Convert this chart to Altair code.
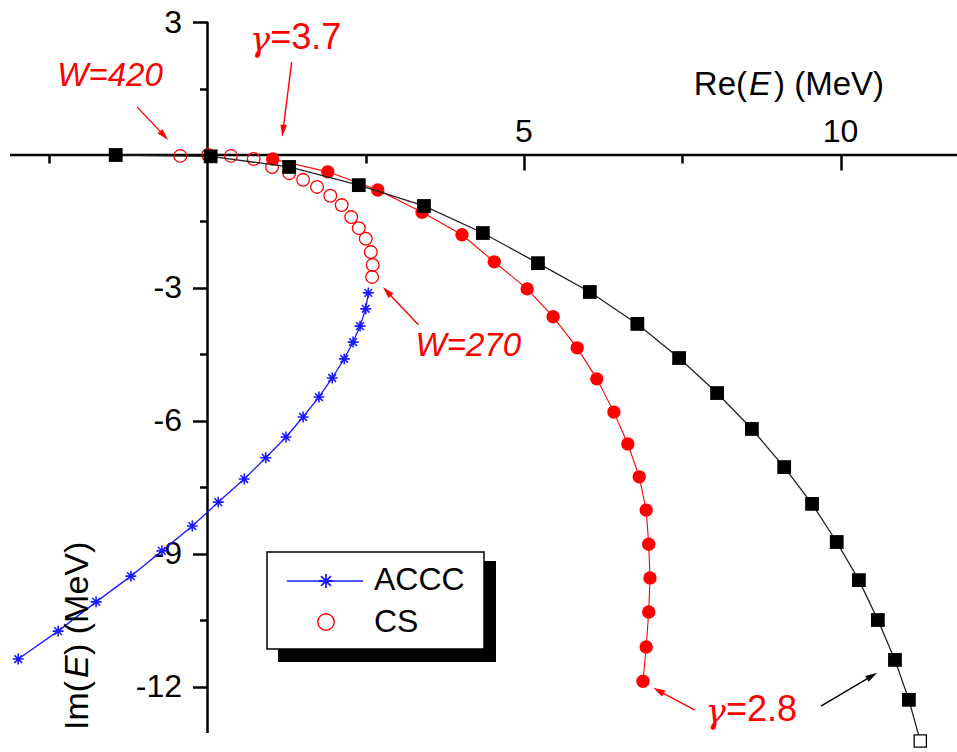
import math
import altair as alt
import pandas as pd

# ---------------- data ----------------
sq_re = [-1.45, 0.05, 1.29, 2.39, 3.42, 4.35, 5.22, 6.04, 6.79, 7.45, 8.05, 8.60, 9.11, 9.55, 9.94, 10.29, 10.59, 10.86, 11.08]
sq_im = [0.0, -0.03, -0.27, -0.68, -1.15, -1.76, -2.44, -3.09, -3.81, -4.58, -5.37, -6.18, -7.04, -7.87, -8.73, -9.59, -10.49, -11.39, -12.29]
end_re = [11.26]
end_im = [-13.22]

red_re = [1.03, 1.90, 2.69, 3.39, 4.02, 4.53, 5.05, 5.46, 5.84, 6.15, 6.42, 6.64, 6.82, 6.93, 6.97, 6.99, 6.97, 6.93, 6.88]
red_im = [-0.09, -0.38, -0.79, -1.29, -1.80, -2.41, -3.02, -3.65, -4.35, -5.05, -5.80, -6.52, -7.26, -8.01, -8.78, -9.54, -10.31, -11.10, -11.87]

cs_re = [-0.43, 0.01, 0.37, 0.73, 1.02, 1.29, 1.51, 1.73, 1.94, 2.12, 2.27, 2.39, 2.50, 2.58, 2.61, 2.60]
cs_im = [-0.02, 0.0, -0.02, -0.09, -0.27, -0.41, -0.56, -0.72, -0.92, -1.13, -1.40, -1.65, -1.89, -2.19, -2.48, -2.75]

accc_re = [2.54, 2.50, 2.41, 2.30, 2.16, 1.97, 1.76, 1.51, 1.24, 0.92, 0.58, 0.17, -0.24, -0.72, -1.21, -1.76, -2.36, -2.99]
accc_im = [-3.11, -3.47, -3.86, -4.22, -4.60, -5.03, -5.46, -5.91, -6.36, -6.83, -7.31, -7.83, -8.37, -8.93, -9.50, -10.08, -10.74, -11.37]

x_ticks = [-2.5, 2.5, 5, 7.5, 10]
x_labels = [5, 10]
y_ticks = [3, 1.5, -1.5, -3, -4.5, -6, -7.5, -9, -10.5, -12]

legend_labels = ["ACCC", "CS"]

ann_w_text = ["W=420", "W=270"]
ann_w_x = [-1.54, 4.12]
ann_w_y = [1.78, -4.31]
ann_g_sym = ["γ", "γ"]
ann_g_text = ["=3.7", "=2.8"]
ann_g_x = [0.99, 8.19]
ann_g_y = [2.64, -12.52]

arr_x1 = [-1.11, 1.33, 3.33, 7.70, 9.69]
arr_y1 = [1.08, 2.10, -3.83, -12.52, -12.43]
arr_x2 = [-0.62, 1.18, 2.77, 7.04, 10.58]
arr_y2 = [0.34, 0.41, -2.98, -12.02, -11.68]
arr_col = ["red", "red", "red", "red", "black"]

# ---------------- geometry ----------------
W, H = 957, 752
X_MIN, X_MAX = -3.278, 11.840
Y_MIN, Y_MAX = -13.467, 3.4965
KX = W / (X_MAX - X_MIN)
KY = H / (Y_MAX - Y_MIN)
X0_PX = -X_MIN * KX
Y0_PX = Y_MAX * KY

FONT = "Liberation Sans"
RED = "#ff0000"
BLUE = "#1a1aff"

XS = alt.Scale(domain=[X_MIN, X_MAX], nice=False, zero=False)
YS = alt.Scale(domain=[Y_MIN, Y_MAX], nice=False, zero=False)

XAX = alt.Axis(
    orient="bottom", offset=-(H - Y0_PX), values=x_ticks, labels=False, domain=False,
    grid=False, title=None, tickColor="black", tickWidth=2.5,
    tickSize={"condition": {"test": "datum.value % 5 === 0", "value": 15}, "value": 8},
)
YAX = alt.Axis(
    orient="left", offset=-X0_PX, values=y_ticks, domain=False, grid=False, title=None,
    tickColor="black", tickWidth=2.5,
    tickSize={"condition": {"test": "datum.value % 3 === 0", "value": 15}, "value": 8},
    labelExpr="datum.value % 3 === 0 ? toString(datum.value) : ''",
    labelFont=FONT, labelFontSize=32, labelColor="black", labelPadding=11,
)


def X(f):
    return alt.X(f, type="quantitative", scale=XS, axis=XAX)


def Y(f):
    return alt.Y(f, type="quantitative", scale=YS, axis=YAX)


def series(re, im):
    return pd.DataFrame({"re": re, "im": im, "i": list(range(len(re)))})


df_sq = series(sq_re, sq_im)
df_end = series(end_re, end_im)
df_red = series(red_re, red_im)
df_cs = series(cs_re, cs_im)
df_accc = series(accc_re, accc_im)

ASTER = "M-1,0L1,0M0,-1L0,1M-0.7,-0.7L0.7,0.7M-0.7,0.7L0.7,-0.7"
HEAD = "M0,-1L0.55,1L-0.55,1Z"

# axis lines
df_axlines = pd.DataFrame({
    "x": [-3.12, 0.0], "x2": [X_MAX, 0.0], "y": [0.0, 3.0], "y2": [0.0, -13.04]
})
axis_lines = alt.Chart(df_axlines).mark_rule(color="black", strokeWidth=2.5).encode(
    x=X("x"), x2="x2", y=Y("y"), y2="y2"
)

# data layers
accc_line = alt.Chart(df_accc).mark_line(color=BLUE, strokeWidth=1.3).encode(
    x=X("re"), y=Y("im"), order="i:Q")
accc_pts = alt.Chart(df_accc).mark_point(shape=ASTER, filled=False, color=BLUE, strokeWidth=1.6, size=120, opacity=1).encode(
    x=X("re"), y=Y("im"))

cs_pts = alt.Chart(df_cs).mark_point(shape="circle", filled=False, color=RED, strokeWidth=1.3, size=160, opacity=1).encode(
    x=X("re"), y=Y("im"))

red_line = alt.Chart(df_red).mark_line(color=RED, strokeWidth=1.1).encode(
    x=X("re"), y=Y("im"), order="i:Q")
red_pts = alt.Chart(df_red).mark_point(shape="circle", filled=True, color=RED, size=180, opacity=1).encode(
    x=X("re"), y=Y("im"))

df_sq_full = series(sq_re + end_re, sq_im + end_im)
sq_line = alt.Chart(df_sq_full).mark_line(color="#222222", strokeWidth=1.3).encode(
    x=X("re"), y=Y("im"), order="i:Q")
sq_pts = alt.Chart(df_sq).mark_point(shape="square", filled=True, color="black", size=190, opacity=1).encode(
    x=X("re"), y=Y("im"))
end_pt = alt.Chart(df_end).mark_point(shape="square", filled=True, fill="white", stroke="black", strokeWidth=1.3, size=150, opacity=1).encode(
    x=X("re"), y=Y("im"))

# x tick labels (drawn above the axis)
df_xl = pd.DataFrame({"v": x_labels, "zero": [0.0] * len(x_labels), "t": [str(v) for v in x_labels]})
x_lab = alt.Chart(df_xl).mark_text(font=FONT, fontSize=32, color="black", dy=-23, baseline="middle", align="center").encode(
    x=X("v"), y=Y("zero"), text="t:N")

# annotations
df_w = pd.DataFrame({"x": ann_w_x, "y": ann_w_y, "t": ann_w_text})
ann_w = alt.Chart(df_w).mark_text(font=FONT, fontSize=33, fontStyle="italic", color=RED, baseline="middle", align="center").encode(
    x=X("x"), y=Y("y"), text="t:N")
df_g = pd.DataFrame({"x": ann_g_x, "y": ann_g_y, "t": ann_g_text, "s": ann_g_sym})
ann_g = alt.Chart(df_g).mark_text(font=FONT, fontSize=36, color=RED, baseline="middle", align="left").encode(
    x=X("x"), y=Y("y"), text="t:N")
ann_gs = alt.Chart(df_g).mark_text(font="DejaVu Serif", fontSize=34, fontStyle="italic", color=RED, baseline="middle", align="right", dy=3).encode(
    x=X("x"), y=Y("y"), text="s:N")

# arrows
rows = []
for x1, y1, x2, y2, c in zip(arr_x1, arr_y1, arr_x2, arr_y2, arr_col):
    dxp = (x2 - x1) * KX
    dyp = -(y2 - y1) * KY
    L = math.hypot(dxp, dyp)
    ux, uy = dxp / L, dyp / L
    ang = math.degrees(math.atan2(dxp, -dyp)) % 360
    rows.append({
        "x1": x1, "y1": y1,
        "xb": x2 - 9 * ux / KX, "yb": y2 + 9 * uy / KY,
        "xh": x2 - 6 * ux / KX, "yh": y2 + 6 * uy / KY,
        "ang": ang, "c": c,
    })
df_arr = pd.DataFrame(rows)
arr_shaft = alt.Chart(df_arr).mark_rule(strokeWidth=1.4).encode(
    x=X("x1"), y=Y("y1"), x2="xb", y2="yb", color=alt.Color("c:N", scale=None))
arr_head = alt.Chart(df_arr).mark_point(shape=HEAD, filled=True, size=144, opacity=1).encode(
    x=X("xh"), y=Y("yh"), angle=alt.Angle("ang:Q", scale=None), color=alt.Color("c:N", scale=None))

# axis titles (mixed italic)
xt1 = alt.Chart(pd.DataFrame({"t": ["Re("]})).mark_text(font=FONT, fontSize=33, color="black", align="right", baseline="alphabetic").encode(
    x=alt.value(747), y=alt.value(95), text="t:N")
xt2 = alt.Chart(pd.DataFrame({"t": ["E"]})).mark_text(font=FONT, fontSize=33, fontStyle="italic", color="black", align="left", baseline="alphabetic").encode(
    x=alt.value(749), y=alt.value(95), text="t:N")
xt3 = alt.Chart(pd.DataFrame({"t": [") (MeV)"]})).mark_text(font=FONT, fontSize=33, color="black", align="left", baseline="alphabetic").encode(
    x=alt.value(774), y=alt.value(95), text="t:N")

yt1 = alt.Chart(pd.DataFrame({"t": ["Im("]})).mark_text(font=FONT, fontSize=34, color="black", align="left", baseline="alphabetic", angle=270).encode(
    x=alt.value(88), y=alt.value(730), text="t:N")
yt2 = alt.Chart(pd.DataFrame({"t": ["E"]})).mark_text(font=FONT, fontSize=34, fontStyle="italic", color="black", align="left", baseline="alphabetic", angle=270).encode(
    x=alt.value(88), y=alt.value(678), text="t:N")
yt3 = alt.Chart(pd.DataFrame({"t": [") (MeV)"]})).mark_text(font=FONT, fontSize=34, color="black", align="left", baseline="alphabetic", angle=270).encode(
    x=alt.value(88), y=alt.value(655), text="t:N")

# legend (box with drop shadow)
df_leg = pd.DataFrame({"t": legend_labels})
one = pd.DataFrame({"k": [0]})
leg_shadow = alt.Chart(one).mark_rect(color="black").encode(
    x=alt.value(278), x2=alt.value(496), y=alt.value(561), y2=alt.value(662))
leg_box = alt.Chart(one).mark_rect(fill="white", stroke="black", strokeWidth=1.5).encode(
    x=alt.value(267), x2=alt.value(484), y=alt.value(552), y2=alt.value(649))
leg_line = alt.Chart(one).mark_rule(color=BLUE, strokeWidth=1.3).encode(
    x=alt.value(287), x2=alt.value(363), y=alt.value(581))
leg_star = alt.Chart(one).mark_point(shape=ASTER, filled=False, color=BLUE, strokeWidth=1.8, size=200, opacity=1).encode(
    x=alt.value(326), y=alt.value(581))
leg_circ = alt.Chart(one).mark_point(shape="circle", filled=False, color=RED, strokeWidth=1.4, size=270, opacity=1).encode(
    x=alt.value(326), y=alt.value(622))
leg_t1 = alt.Chart(df_leg).transform_filter("datum.t === 'ACCC'").mark_text(font=FONT, fontSize=32, color="black", align="left", baseline="middle").encode(
    x=alt.value(374), y=alt.value(580), text="t:N")
leg_t2 = alt.Chart(df_leg).transform_filter("datum.t === 'CS'").mark_text(font=FONT, fontSize=32, color="black", align="left", baseline="middle").encode(
    x=alt.value(374), y=alt.value(622), text="t:N")

chart = alt.layer(
    axis_lines,
    accc_line, accc_pts,
    cs_pts,
    red_line, red_pts,
    sq_line, sq_pts, end_pt,
    x_lab, ann_w, ann_g, ann_gs, arr_shaft, arr_head,
    xt1, xt2, xt3, yt1, yt2, yt3,
    leg_shadow, leg_box, leg_line, leg_star, leg_circ, leg_t1, leg_t2,
).properties(
    width=W, height=H, autosize=alt.AutoSizeParams(type="none"), padding=0, background="white"
).configure_view(stroke=None)

chart.save("out.html", embed_options={"renderer": "svg", "actions": False})
